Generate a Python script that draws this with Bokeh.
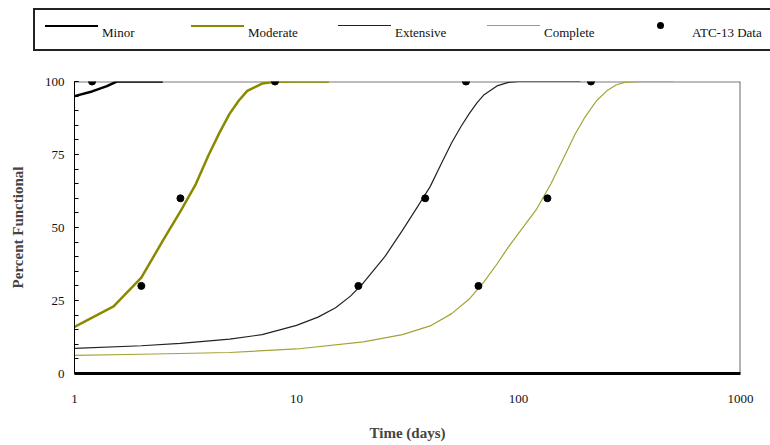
from bokeh.plotting import figure
from bokeh.layouts import column
from bokeh.models import (Range1d, Span, Div, SingleIntervalTicker,
                          FixedTicker, PrintfTickFormatter)
from bokeh.embed import file_html
from bokeh.resources import INLINE

# ---- data ----
minor_t = [1, 1.2, 1.4, 1.55, 2, 2.5]
minor_v = [95, 96.6, 98.4, 100, 100, 100]

moderate_t = [1, 1.5, 2, 2.5, 3, 3.5, 4, 4.5, 5, 5.5, 6, 7, 8, 10, 14]
moderate_v = [16, 23, 32.8, 45.5, 55.5, 64.5, 74.5, 82.5, 89, 93.5, 96.8, 99.3, 99.9, 100, 100]

extensive_t = [1, 2, 3, 5, 7, 10, 12.5, 15, 17.5, 20, 25, 30, 35, 40, 45, 50, 55,
               60, 65, 70, 80, 90, 100, 150, 190]
extensive_v = [8.6, 9.5, 10.3, 11.8, 13.3, 16.5, 19.3, 22.5, 26.5, 31, 40, 49, 57,
               64, 72, 79, 84.5, 89, 92.7, 95.5, 98.5, 99.7, 100, 100, 100]

complete_t = [1, 2, 5, 10, 20, 30, 40, 50, 60, 70, 80, 90, 100, 120, 140, 160, 180,
              200, 225, 250, 275, 300, 350, 500]
complete_v = [6.2, 6.6, 7.2, 8.4, 10.8, 13.3, 16.3, 20.5, 25.5, 31.5, 37.5, 43.3,
              48, 56, 65, 74, 82, 88, 93.5, 96.8, 98.8, 99.7, 100, 100]

atc_t = [1.2, 2, 3, 8, 19, 38, 58, 66, 135, 212]
atc_v = [100, 30, 60, 100, 30, 60, 100, 30, 60, 100]

x_ticks = [1, 10, 100, 1000]
series_names = ["Minor", "Moderate", "Extensive", "Complete", "ATC-13 Data"]

FONT = "Liberation Serif"
MINOR_COLOR = "#000000"
MOD_COLOR = "#8a8a00"
EXT_COLOR = "#222222"
COMP_COLOR = "#a3a336"
series_colors = [MINOR_COLOR, MOD_COLOR, EXT_COLOR, COMP_COLOR, "#000000"]
series_widths = [2.5, 2.5, 1.2, 1.2, None]

# ---------------- main chart ----------------
p = figure(width=770, height=389, x_axis_type="log",
           x_range=Range1d(1, 1000), y_range=Range1d(0, 100),
           output_backend="svg", toolbar_location=None,
           min_border_left=74, min_border_right=30,
           min_border_top=25, min_border_bottom=72)
p.outline_line_color = None
p.grid.visible = False
p.background_fill_color = "white"
p.border_fill_color = "white"

xa = p.xaxis[0]
xa.ticker = FixedTicker(ticks=x_ticks)
xa.formatter = PrintfTickFormatter(format="%d")
xa.major_tick_in = 0
xa.major_tick_out = 0
xa.minor_tick_in = 0
xa.minor_tick_out = 0
xa.axis_line_width = 3
xa.axis_line_color = "black"
xa.major_label_standoff = 21
xa.major_label_text_font = FONT
xa.major_label_text_font_size = "13px"
xa.major_label_text_color = "#111111"
xa.axis_label = "Time (days)"
xa.axis_label_text_font = FONT
xa.axis_label_text_font_style = "bold"
xa.axis_label_text_font_size = "15px"
xa.axis_label_standoff = 19

ya = p.yaxis[0]
ya.ticker = SingleIntervalTicker(interval=25, num_minor_ticks=5)
ya.major_tick_in = 4
ya.major_tick_out = 0
ya.minor_tick_in = 4
ya.minor_tick_out = 0
ya.axis_line_color = "black"
ya.axis_line_width = 1
ya.major_label_standoff = 10
ya.major_label_text_font = FONT
ya.major_label_text_font_size = "13px"
ya.major_label_text_color = "#111111"
ya.axis_label = "Percent Functional"
ya.axis_label_text_font = FONT
ya.axis_label_text_font_style = "bold"
ya.axis_label_text_font_size = "15px"
ya.axis_label_standoff = 16

# plot-area border (top and right)
p.add_layout(Span(location=100, dimension="width", line_color="#7a7a7a",
                  line_width=2, level="underlay"))
p.add_layout(Span(location=1000, dimension="height", line_color="#666666",
                  line_width=2, level="underlay"))

p.line(minor_t, minor_v, line_color=MINOR_COLOR, line_width=2.5)
p.line(moderate_t, moderate_v, line_color=MOD_COLOR, line_width=2.5)
p.line(extensive_t, extensive_v, line_color=EXT_COLOR, line_width=1.2)
p.line(complete_t, complete_v, line_color=COMP_COLOR, line_width=1.2)
p.scatter(atc_t, atc_v, marker="circle", size=7, color="black")

# ---------------- legend strip (HTML) ----------------
item_left = [45, 191, 338, 487, 634]
parts = ['<div style="position:relative;width:770px;height:56px;overflow:hidden;'
         'background:white;font-family:\'Liberation Serif\';font-size:13px;color:#111;">',
         '<div style="position:absolute;left:33px;top:8px;width:745px;height:39px;'
         'border:2px solid #222;box-sizing:content-box;"></div>']
for name, col, w, x0 in zip(series_names, series_colors, series_widths, item_left):
    if w is not None:
        parts.append('<div style="position:absolute;left:%dpx;top:%dpx;width:53px;'
                     'height:%dpx;background:%s;"></div>'
                     % (x0, 26 - int(round(w / 2)), max(1, int(round(w))), col))
    else:
        parts.append('<div style="position:absolute;left:%dpx;top:22px;width:7px;'
                     'height:7px;border-radius:50%%;background:%s;"></div>'
                     % (x0 + 23, col))
    parts.append('<div style="position:absolute;left:%dpx;top:25px;white-space:nowrap;'
                 'line-height:15px;">%s</div>' % (x0 + 57 + (1 if w is None else 0), name))
parts.append('</div>')
leg = Div(text="".join(parts), width=770, height=56, margin=0)

layout = column(leg, p, spacing=0)
open("out.html", "w").write(file_html(layout, INLINE))
